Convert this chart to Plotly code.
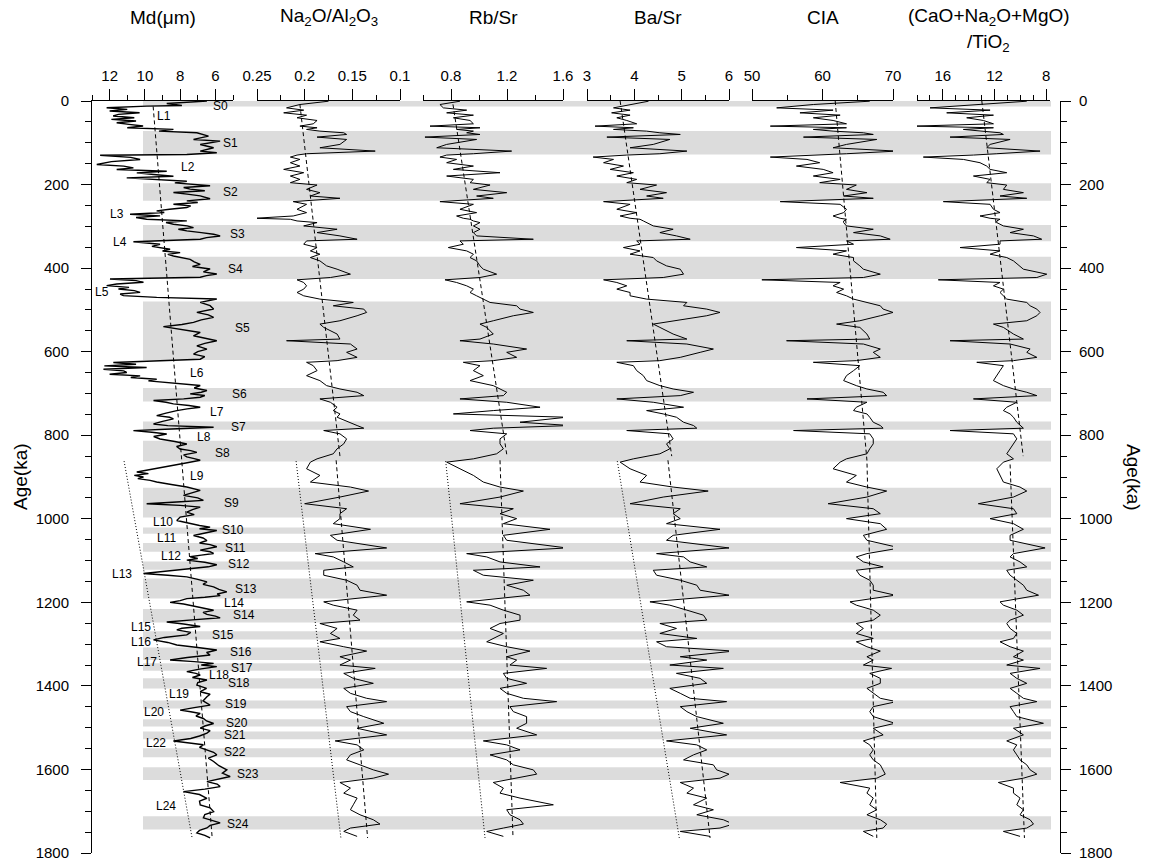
import plotly.graph_objects as go

FONT = "Liberation Sans, Arial, Helvetica, sans-serif"

# ---------------- Md (grain size) ----------------
md_age = [0, 6, 10.7, 12.3, 16, 20, 24, 28, 32, 36, 40, 44, 48, 52, 56, 60, 64, 68, 72, 76,
          84, 92, 96, 104, 112, 120, 124, 128, 130, 135, 140, 145, 152, 156, 160, 164, 168, 172, 176, 180,
          184, 188, 192, 196, 200, 203, 207, 211, 215, 219, 223, 227, 234, 239, 243, 247, 251, 255, 259, 263,
          267, 271, 275, 279, 283, 287, 291, 295, 299, 303, 307, 311, 315, 319, 323, 327, 331, 337, 343, 348,
          355, 359, 363, 367, 371, 375, 379, 385, 391, 396, 402, 409, 414, 418, 422, 426, 430, 434, 438, 442,
          446, 450, 454, 458, 462, 466, 470, 474, 482, 490, 498, 506, 512, 518, 524, 530, 535, 540, 546, 554,
          562, 568, 574, 580, 586, 594, 600, 606, 612, 618, 622, 626, 630, 634, 638, 642, 646, 650, 654, 658,
          662, 666, 670, 674, 681, 687, 693, 697, 701, 705, 709, 713, 717, 721, 725, 729, 733, 737, 741, 747,
          753, 757, 761, 767, 773, 777, 781, 785, 789, 793, 797, 803, 809, 815, 821, 827, 833, 837, 841, 847,
          852, 856, 860, 866, 872, 878, 884, 888, 892, 896, 900, 904, 908, 912, 918, 924, 932, 938, 944, 950,
          956, 960, 964, 968, 972, 978, 984, 990, 996, 1004, 1008, 1012, 1016, 1020, 1024, 1028, 1034, 1040, 1046, 1052,
          1058, 1062, 1067, 1071, 1075, 1079, 1083, 1087, 1091, 1095, 1099, 1104, 1110, 1115, 1119, 1125, 1131, 1135, 1139, 1145,
          1151, 1157, 1163, 1169, 1175, 1180, 1184, 1188, 1191, 1196, 1200, 1204, 1207, 1213, 1219, 1224, 1229, 1233, 1237, 1242,
          1247, 1252, 1258, 1262, 1266, 1272, 1278, 1284, 1290, 1296, 1302, 1308, 1314, 1320, 1326, 1332, 1338, 1342, 1346, 1350,
          1354, 1360, 1366, 1370, 1374, 1380, 1386, 1392, 1398, 1406, 1414, 1420, 1426, 1436, 1446, 1452, 1458, 1462, 1466, 1472,
          1478, 1484, 1490, 1496, 1501, 1507, 1513, 1520, 1526, 1532, 1537, 1541, 1547, 1553, 1559, 1565, 1573, 1581, 1591, 1601,
          1609, 1617, 1623, 1629, 1635, 1641, 1647, 1653, 1660, 1669, 1676, 1685, 1692, 1701, 1708, 1716, 1722, 1728, 1734, 1740,
          1746, 1752, 1758, 1764]
md_val = [6.48, 8.76, 7.90, 9.90, 12.17, 11.0, 12.0, 10.3, 11.5, 11.8, 10.6, 11.9, 10.5, 11.6, 10.9, 10.1, 11.0, 8.38, 9.2, 7.05,
          6.39, 7.24, 5.73, 6.86, 6.10, 6.86, 5.92, 7.62, 12.54, 10.8, 10.27, 11.9, 12.73, 11.2, 10.65, 11.6, 8.76, 10.46, 9.5, 8.38,
          11.03, 9.2, 7.62, 8.3, 6.86, 6.30, 7.8, 7.43, 6.6, 8.38, 7.6, 6.86, 6.30, 7.62, 7.0, 8.38, 7.4, 7.62, 8.6, 9.33,
          8.9, 10.84, 9.14, 10.5, 9.90, 7.62, 8.8, 8.38, 7.6, 7.24, 8.1, 7.62, 6.8, 6.10, 5.73, 6.5, 6.86, 10.65, 9.14, 9.6,
          8.57, 9.0, 8.00, 8.7, 8.38, 7.9, 7.43, 7.2, 6.86, 7.3, 6.30, 6.68, 5.92, 6.5, 6.86, 11.98, 10.5, 10.08, 11.6, 12.17,
          10.9, 11.5, 10.6, 10.27, 11.4, 11.22, 9.33, 5.92, 6.86, 6.3, 6.10, 7.05, 6.4, 6.10, 6.8, 7.24, 7.9, 8.95, 8.00, 6.86,
          7.24, 6.5, 5.92, 6.6, 7.05, 6.48, 7.0, 7.24, 6.6, 6.86, 9.33, 11.79, 10.5, 12.3, 9.9, 12.35, 11.2, 11.03, 12.0, 10.27,
          10.8, 9.33, 9.8, 8.76, 6.86, 7.2, 6.48, 6.8, 7.43, 6.6, 6.86, 7.8, 9.51, 8.8, 8.38, 7.5, 6.86, 7.6, 8.19, 8.8,
          9.33, 8.6, 8.38, 9.0, 9.51, 8.7, 6.10, 8.5, 10.65, 9.6, 8.76, 9.5, 9.14, 8.3, 7.62, 8.2, 8.00, 7.4, 7.05, 7.8,
          7.62, 7.2, 6.86, 7.6, 8.4, 9.2, 10.0, 10.46, 9.8, 10.6, 10.08, 10.4, 9.7, 9.33, 8.5, 7.62, 6.86, 7.3, 7.81, 7.0,
          6.68, 8.2, 9.90, 8.0, 6.86, 7.3, 7.62, 7.2, 8.00, 8.19, 7.8, 7.43, 6.9, 6.30, 6.9, 5.92, 6.6, 7.24, 6.7, 6.48,
          6.9, 6.3, 5.92, 6.5, 6.86, 6.3, 6.10, 6.8, 7.43, 7.0, 7.62, 6.6, 5.92, 6.4, 7.24, 8.6, 10.08, 8.7, 7.62, 7.0,
          6.48, 6.7, 6.10, 5.8, 5.35, 5.9, 5.73, 6.6, 7.62, 8.0, 8.57, 7.8, 7.43, 6.7, 6.10, 6.7, 6.48, 6.0, 5.73, 7.3,
          8.76, 7.8, 6.86, 7.9, 8.19, 7.4, 7.62, 8.9, 9.51, 8.7, 8.19, 7.0, 5.92, 6.5, 6.30, 7.6, 8.57, 7.2, 6.10, 6.8,
          5.92, 6.9, 7.62, 7.1, 6.86, 7.3, 6.48, 7.0, 7.05, 6.5, 6.86, 6.3, 6.48, 6.7, 6.30, 7.2, 8.00, 7.4, 6.86, 7.1,
          6.68, 6.5, 6.10, 6.6, 6.86, 6.3, 6.48, 6.9, 7.4, 8.38, 7.4, 6.68, 6.9, 6.48, 6.1, 5.92, 6.4, 6.10, 5.8, 5.35,
          5.6, 5.16, 5.9, 6.48, 5.9, 5.73, 6.6, 7.81, 6.9, 6.48, 6.9, 6.86, 6.3, 6.10, 6.6, 6.68, 6.2, 5.73, 6.3, 6.48,
          6.9, 7.05, 6.6, 6.30]

# ---------------- geochemistry (shared sample ages) ----------------
geo_age = [0.5, 8.4, 16.4, 21.9, 28.3, 33.9, 40.2, 46.6, 54.6, 60.1,
           64.1, 68.1, 72.1, 76.1, 80.1, 86.4, 92.0, 103.9, 111.9, 119.9,
           126.2, 129.4, 134.2, 139.8, 147.7, 155.7, 163.7, 171.6, 179.6, 187.6,
           195.5, 201.1, 211.5, 219.4, 227.4, 232.9, 240.9, 247.3, 259.2, 267.2,
           275.2, 280.7, 283.1, 287.1, 291.1, 299.0, 307.0, 315.0, 322.9, 330.9,
           334.9, 342.8, 350.8, 358.8, 366.7, 374.7, 382.7, 394.6, 402.6, 414.5,
           422.5, 428.0, 434.4, 442.4, 450.3, 458.3, 466.3, 474.2, 482.2, 490.2,
           498.1, 506.1, 514.0, 526.0, 534.0, 541.9, 557.8, 569.8, 573.8, 581.7,
           593.7, 601.6, 613.6, 621.5, 625.5, 633.5, 645.4, 657.4, 669.3, 681.3,
           689.3, 697.2, 705.2, 713.1, 721.1, 733.0, 741.0, 749.0, 756.9, 768.9,
           776.8, 783.2, 788.8, 796.7, 808.7, 820.6, 832.6, 844.5, 856.5, 864.4,
           880.3, 896.2, 912.1, 924.1, 933.6, 948.0, 963.9, 975.9, 987.8, 999.7,
           1011.7, 1025.2, 1039.6, 1051.5, 1069.8, 1083.4, 1091.3, 1103.3, 1115.2, 1123.2,
           1135.1, 1147.1, 1159.0, 1171.0, 1182.9, 1198.8, 1206.8, 1218.7, 1230.7, 1242.6,
           1250.6, 1262.5, 1274.5, 1286.4, 1294.4, 1306.3, 1316.7, 1330.2, 1338.2, 1350.1,
           1358.1, 1370.0, 1382.0, 1393.9, 1405.9, 1417.8, 1429.7, 1437.7, 1449.7, 1461.6,
           1473.6, 1489.5, 1501.4, 1517.3, 1531.7, 1541.2, 1553.2, 1565.1, 1577.1, 1589.0,
           1601.0, 1611.3, 1620.9, 1631.2, 1644.7, 1656.7, 1668.6, 1684.6, 1696.5, 1708.5,
           1720.4, 1730.8, 1740.3, 1748.3, 1760.2]

na_al = [0.175, 0.205, 0.219, 0.201, 0.222, 0.198, 0.208, 0.187, 0.191, 0.205,
         0.187, 0.198, 0.184, 0.159, 0.156, 0.187, 0.156, 0.163, 0.184, 0.126,
         0.198, 0.208, 0.215, 0.205, 0.215, 0.205, 0.222, 0.201, 0.215, 0.205,
         0.215, 0.187, 0.198, 0.184, 0.194, 0.163, 0.212, 0.198, 0.208, 0.198,
         0.212, 0.252, 0.215, 0.208, 0.187, 0.201, 0.166, 0.187, 0.163, 0.145,
         0.198, 0.201, 0.187, 0.194, 0.184, 0.194, 0.184, 0.177, 0.166, 0.152,
         0.173, 0.208, 0.201, 0.198, 0.201, 0.208, 0.201, 0.184, 0.149, 0.170,
         0.138, 0.135, 0.145, 0.163, 0.184, 0.180, 0.166, 0.163, 0.219, 0.152,
         0.145, 0.156, 0.145, 0.166, 0.198, 0.191, 0.187, 0.198, 0.184, 0.177,
         0.163, 0.145, 0.138, 0.184, 0.173, 0.166, 0.170, 0.163, 0.166, 0.152,
         0.145, 0.138, 0.180, 0.163, 0.156, 0.159, 0.166, 0.170, 0.187, 0.194,
         0.198, 0.184, 0.194, 0.152, 0.133, 0.163, 0.200, 0.156, 0.163, 0.163,
         0.170, 0.131, 0.173, 0.166, 0.114, 0.189, 0.170, 0.159, 0.149, 0.180,
         0.180, 0.156, 0.145, 0.142, 0.114, 0.180, 0.170, 0.145, 0.149, 0.142,
         0.184, 0.166, 0.173, 0.163, 0.184, 0.159, 0.135, 0.163, 0.152, 0.163,
         0.126, 0.159, 0.149, 0.128, 0.159, 0.152, 0.135, 0.114, 0.156, 0.152,
         0.138, 0.117, 0.145, 0.114, 0.168, 0.145, 0.138, 0.152, 0.156, 0.142,
         0.128, 0.112, 0.128, 0.163, 0.152, 0.159, 0.145, 0.149, 0.152, 0.142,
         0.128, 0.121, 0.152, 0.159, 0.145]

rb_sr = [0.864, 0.721, 0.745, 0.912, 0.769, 0.960, 0.817, 0.936, 0.960, 0.650,
         1.007, 0.840, 0.960, 0.912, 1.007, 0.614, 0.983, 0.769, 0.698, 1.233,
         0.960, 0.769, 0.721, 0.840, 0.769, 0.960, 0.817, 1.150, 0.769, 0.960,
         0.936, 1.079, 0.960, 1.198, 0.983, 1.102, 0.721, 0.960, 0.864, 0.983,
         0.840, 0.888, 0.936, 0.960, 1.007, 0.960, 1.007, 0.960, 0.983, 1.388,
         0.864, 0.888, 0.781, 0.912, 0.960, 0.936, 0.983, 1.007, 1.031, 1.126,
         1.007, 0.757, 0.840, 0.912, 0.960, 0.936, 0.983, 1.031, 1.079, 1.269,
         1.293, 1.388, 1.245, 1.102, 1.007, 1.055, 1.102, 1.007, 0.864, 1.102,
         1.340, 1.198, 1.269, 1.102, 0.888, 1.007, 0.960, 1.031, 0.936, 1.102,
         1.150, 1.198, 1.174, 0.864, 1.198, 1.436, 1.102, 0.817, 1.626, 1.293,
         1.650, 1.102, 0.936, 1.198, 1.150, 1.150, 1.174, 1.126, 0.960, 0.769,
         0.864, 0.960, 1.031, 1.150, 1.317, 1.150, 0.864, 1.245, 1.150, 1.269,
         1.174, 1.507, 1.174, 1.198, 1.626, 0.912, 1.055, 1.150, 1.436, 0.960,
         1.031, 1.388, 1.198, 1.317, 1.364, 0.912, 1.079, 1.174, 1.293, 1.293,
         1.150, 1.079, 1.174, 1.102, 1.055, 1.198, 1.364, 1.198, 1.269, 1.221,
         1.483, 1.174, 1.198, 1.340, 1.150, 1.198, 1.317, 1.555, 1.221, 1.245,
         1.340, 1.340, 1.269, 1.412, 1.031, 1.198, 1.293, 1.079, 1.198, 1.245,
         1.388, 1.412, 1.269, 1.102, 1.174, 1.150, 1.293, 1.531, 1.198, 1.221,
         1.293, 1.317, 1.174, 1.055, 1.174]

ba_sr = [4.30, 3.91, 3.56, 3.91, 3.52, 3.91, 3.63, 3.84, 4.05, 3.17,
         3.98, 3.56, 4.26, 4.54, 4.97, 3.42, 4.75, 4.40, 3.91, 5.11,
         4.54, 3.84, 3.13, 3.56, 3.35, 3.77, 3.49, 3.98, 3.63, 4.05,
         3.84, 4.47, 4.12, 4.68, 4.26, 4.61, 3.35, 3.91, 3.63, 4.05,
         3.70, 3.91, 4.12, 4.19, 4.26, 4.40, 4.82, 4.54, 4.89, 5.18,
         4.05, 4.12, 3.77, 4.12, 3.91, 4.40, 4.47, 4.68, 4.97, 5.04,
         4.61, 3.35, 3.63, 3.84, 3.63, 3.91, 3.91, 4.26, 5.11, 5.04,
         5.53, 5.81, 5.53, 4.82, 4.40, 4.54, 4.82, 5.11, 3.84, 5.11,
         5.67, 5.39, 4.97, 4.54, 3.63, 3.98, 4.05, 4.19, 4.26, 4.54,
         4.82, 5.25, 4.97, 3.63, 4.40, 5.04, 4.26, 4.61, 4.89, 5.04,
         5.25, 5.32, 3.84, 4.75, 4.82, 4.68, 4.75, 4.54, 3.98, 3.70,
         3.91, 4.26, 4.12, 4.82, 5.56, 4.61, 3.91, 4.97, 4.82, 4.97,
         4.68, 5.81, 4.82, 4.68, 6.00, 4.47, 5.04, 5.18, 5.53, 4.40,
         4.47, 4.97, 5.32, 5.39, 6.00, 4.33, 4.75, 5.11, 5.46, 5.53,
         4.54, 4.89, 4.54, 5.32, 4.47, 4.68, 6.10, 4.97, 5.53, 4.75,
         5.88, 4.89, 5.39, 5.53, 4.75, 4.97, 5.18, 5.95, 4.97, 5.11,
         5.32, 5.88, 5.18, 5.95, 4.68, 5.32, 5.53, 5.25, 5.04, 5.67,
         5.74, 6.00, 5.81, 4.97, 5.25, 5.11, 5.53, 5.25, 5.67, 5.32,
         5.88, 6.09, 5.81, 4.97, 5.60]

cia = [66.7, 58.7, 53.5, 61.5, 56.8, 62.5, 58.7, 61.5, 63.4, 52.6,
       63.4, 58.7, 61.5, 65.8, 67.2, 57.3, 67.7, 63.4, 61.5, 70.5,
       63.4, 58.7, 52.6, 57.8, 59.6, 56.3, 60.1, 61.5, 58.7, 62.5,
       59.6, 64.8, 63.4, 66.3, 63.0, 67.2, 54.0, 62.5, 63.4, 63.0,
       61.5, 62.5, 63.4, 63.0, 63.0, 63.4, 67.2, 64.4, 68.2, 69.6,
       63.4, 64.4, 56.3, 63.4, 61.5, 64.4, 64.4, 65.3, 65.8, 68.2,
       65.8, 51.4, 62.5, 61.5, 63.0, 62.0, 63.4, 64.4, 66.3, 68.2,
       68.6, 70.0, 68.2, 65.3, 62.0, 65.3, 66.3, 66.7, 54.9, 65.8,
       68.2, 67.2, 68.2, 64.8, 58.7, 65.3, 64.4, 63.4, 63.0, 64.8,
       66.3, 68.6, 69.1, 57.8, 66.3, 64.8, 64.4, 66.3, 66.7, 67.2,
       68.2, 68.6, 55.9, 66.7, 67.2, 67.2, 66.7, 66.3, 63.4, 62.5,
       61.5, 64.8, 63.4, 66.3, 69.1, 66.3, 60.8, 67.2, 68.2, 63.4,
       68.2, 69.1, 65.8, 66.3, 71.0, 66.3, 64.8, 65.8, 68.6, 64.8,
       65.3, 66.7, 67.2, 67.2, 70.3, 63.9, 64.8, 67.2, 68.2, 67.2,
       64.8, 65.8, 64.8, 67.2, 64.8, 66.3, 68.2, 66.3, 67.2, 65.8,
       69.8, 66.7, 68.2, 68.2, 66.3, 67.2, 68.2, 70.5, 67.2, 66.7,
       67.2, 70.3, 67.2, 68.6, 65.8, 66.7, 67.2, 66.7, 67.2, 68.2,
       68.6, 68.9, 67.7, 62.5, 66.7, 66.3, 67.2, 66.7, 67.7, 66.3,
       68.2, 69.1, 68.6, 65.8, 67.2]

cnm_ti = [9.50, 13.12, 16.99, 12.34, 15.70, 12.08, 14.15, 12.86, 12.08, 18.16,
          12.08, 14.41, 12.86, 11.57, 11.31, 15.44, 10.79, 12.34, 12.60, 8.47,
          11.82, 13.63, 17.51, 14.41, 13.12, 12.60, 12.34, 11.05, 13.63, 12.34,
          12.60, 11.05, 11.31, 9.76, 11.57, 9.50, 15.96, 12.34, 12.08, 11.57,
          13.12, 12.34, 11.57, 11.82, 11.82, 11.31, 9.76, 10.79, 8.98, 8.34,
          11.57, 11.57, 14.67, 11.57, 12.34, 11.05, 10.53, 10.02, 9.76, 7.95,
          8.72, 16.35, 11.57, 12.08, 11.31, 11.57, 11.31, 11.05, 9.50, 9.24,
          8.72, 8.47, 8.72, 9.50, 12.08, 11.31, 10.53, 9.76, 15.44, 10.79,
          9.24, 9.50, 8.72, 10.53, 13.37, 11.31, 11.57, 11.82, 12.08, 11.31,
          10.53, 9.50, 8.72, 13.63, 10.27, 11.05, 11.31, 10.79, 10.53, 10.27,
          10.02, 9.76, 15.44, 10.53, 10.27, 10.53, 10.79, 11.05, 10.53, 11.31,
          11.82, 11.57, 11.31, 10.02, 9.50, 10.53, 13.25, 10.53, 10.27, 12.34,
          10.53, 9.76, 10.79, 10.79, 8.08, 10.53, 10.79, 10.02, 9.50, 11.05,
          10.79, 10.27, 9.76, 9.50, 8.59, 11.57, 11.31, 10.27, 9.76, 10.79,
          11.05, 10.79, 10.27, 10.53, 11.57, 10.79, 9.76, 10.53, 9.76, 11.05,
          8.47, 10.79, 10.27, 9.50, 10.79, 10.27, 9.76, 8.72, 10.79, 10.53,
          10.27, 8.21, 10.53, 9.76, 11.05, 10.27, 10.53, 10.27, 10.02, 9.50,
          9.24, 8.72, 9.76, 11.70, 10.53, 10.53, 10.02, 10.27, 9.76, 10.02,
          9.24, 8.98, 9.50, 11.31, 10.02]

for name, arr in [("na_al", na_al), ("rb_sr", rb_sr), ("ba_sr", ba_sr), ("cia", cia), ("cnm_ti", cnm_ti)]:
    if len(arr) != len(geo_age):
        raise SystemExit(f"{name}: {len(arr)} vs {len(geo_age)}")
if len(md_age) != len(md_val):
    raise SystemExit(f"md: {len(md_age)} vs {len(md_val)}")

# ---------------- trend lines (dashed) and envelope (dotted) ----------------
md_trend_age = [13, 862, 1764]
md_trend = [9.53, 7.90, 6.18]
na_trend_age = [8, 850, None, 860, 1764]
na_trend = [0.205, 0.163, None, 0.167, 0.134]
rb_trend_age = [8, 850, None, 860, 1764]
rb_trend = [0.814, 1.20, None, 1.15, 1.243]
ba_trend_age = [0, 850, None, 860, 1764]
ba_trend = [3.70, 4.79, None, 4.71, 5.60]
cia_trend_age = [0, 860, 1764]
cia_trend = [61.8, 66.3, 67.7]
cnm_trend_age = [0, 850, None, 870, 1764]
cnm_trend = [12.98, 9.78, None, 10.79, 9.68]

env_age = [862, 1764]
md_env = [11.18, 7.32]
na_env = [0.209, 0.162]
rb_env = [0.762, 1.043]
ba_env = [3.64, 4.95]

# ---------------- paleosol bands and unit labels ----------------
band_start = [0, 72, 197, 297, 373, 480, 687, 767, 813, 926, 1021, 1058, 1102, 1143, 1216,
              1269, 1308, 1346, 1382, 1435, 1480, 1509, 1549, 1595, 1712]
band_end = [13, 128, 239, 336, 426, 620, 719, 787, 863, 997, 1036, 1079, 1122, 1191, 1248,
            1289, 1338, 1364, 1406, 1454, 1497, 1528, 1571, 1625, 1744]

unit_names = ["S0", "L1", "S1", "L2", "S2", "L3", "S3", "L4", "S4", "L5", "S5", "L6", "S6", "L7", "S7",
              "L8", "S8", "L9", "S9", "L10", "S10", "L11", "S11", "L12", "S12", "L13", "S13", "L14",
              "S14", "L15", "S15", "L16", "S16", "L17", "S17", "L18", "S18", "L19", "S19", "L20",
              "S20", "S21", "L22", "S22", "S23", "L24", "S24"]
unit_ages = [13, 35, 101, 157, 217, 271, 319, 338, 402, 457, 544, 651, 701, 744, 780,
             804, 843, 897, 962, 1007, 1028, 1045, 1069, 1090, 1109, 1133, 1167, 1202,
             1231, 1260, 1279, 1296, 1320, 1342, 1356, 1374, 1393, 1420, 1444, 1463,
             1489, 1517, 1537, 1558, 1610, 1688, 1730]
# label positions expressed on the Md scale
unit_md = [5.73, 8.91, 5.16, 7.55, 5.16, 11.58, 4.76, 11.41, 4.88, 12.43, 4.48, 7.03, 4.65, 5.90, 4.70,
           6.64, 5.61, 7.03, 5.10, 8.97, 4.99, 8.80, 4.88, 8.51, 4.65, 11.30, 4.25, 4.93,
           4.36, 10.22, 5.56, 10.22, 4.53, 9.88, 4.48, 5.78, 4.65, 8.06, 4.82, 9.48,
           4.76, 4.88, 9.36, 4.88, 4.14, 8.80, 4.70]

# ---------------- layout geometry ----------------
FIG_W, FIG_H = 1149, 866
ML, MR, MT, MB = 92, 89, 101, 13
PW = FIG_W - ML - MR
PH = FIG_H - MT - MB


def dom(a, b):
    return [(a - ML) / PW, (b - ML) / PW]


panels = [
    dict(key="x", dom=dom(92, 233), rng=[13, 5], major=[12, 10, 8, 6], lab=["12", "10", "8", "6"],
         minor=[13, 11, 9, 7, 5]),
    dict(key="x2", dom=dom(257, 400), rng=[0.25, 0.1], major=[0.25, 0.2, 0.15, 0.1],
         lab=["0.25", "0.2", "0.15", "0.1"], minor=[0.225, 0.175, 0.125]),
    dict(key="x3", dom=dom(423, 563), rng=[0.6, 1.6], major=[0.8, 1.2, 1.6], lab=["0.8", "1.2", "1.6"],
         minor=[0.6, 1.0, 1.4]),
    dict(key="x4", dom=dom(587, 729), rng=[3, 6], major=[3, 4, 5, 6], lab=["3", "4", "5", "6"],
         minor=[3.5, 4.5, 5.5]),
    dict(key="x5", dom=dom(752, 893), rng=[50, 70], major=[50, 60, 70], lab=["50", "60", "70"],
         minor=[55, 65]),
    dict(key="x6", dom=dom(917, 1050), rng=[18, 7.7], major=[16, 12, 8], lab=["16", "12", "8"],
         minor=[18, 17, 15, 14, 13, 11, 10, 9]),
]

fig = go.Figure()
line = dict(color="black", width=1)
md_line = dict(color="black", width=1.4)
dash = dict(color="black", width=1, dash="4px,3px")
dot = dict(color="black", width=1, dash="1px,2px")

series = [
    ("x", md_val, md_age, md_trend, md_trend_age, md_env),
    ("x2", na_al, geo_age, na_trend, na_trend_age, na_env),
    ("x3", rb_sr, geo_age, rb_trend, rb_trend_age, rb_env),
    ("x4", ba_sr, geo_age, ba_trend, ba_trend_age, ba_env),
    ("x5", cia, geo_age, cia_trend, cia_trend_age, None),
    ("x6", cnm_ti, geo_age, cnm_trend, cnm_trend_age, None),
]
for xk, vals, ages, tr, tr_age, env in series:
    fig.add_trace(go.Scatter(x=vals, y=ages, xaxis=xk, yaxis="y", mode="lines",
                             line=md_line if xk == "x" else line,
                             showlegend=False, hoverinfo="skip"))
    fig.add_trace(go.Scatter(x=tr, y=tr_age, xaxis=xk, yaxis="y", mode="lines", line=dash,
                             showlegend=False, hoverinfo="skip", connectgaps=False))
    if env is not None:
        fig.add_trace(go.Scatter(x=env, y=env_age, xaxis=xk, yaxis="y", mode="lines", line=dot,
                                 showlegend=False, hoverinfo="skip"))

# dummy trace for right-hand age axis
fig.add_trace(go.Scatter(x=[None], y=[None], xaxis="x6", yaxis="y2", showlegend=False,
                         hoverinfo="skip"))

layout = dict(
    template="none",
    width=FIG_W, height=FIG_H,
    margin=dict(l=ML, r=MR, t=MT, b=MB, pad=0, autoexpand=False),
    paper_bgcolor="white", plot_bgcolor="rgba(0,0,0,0)",
    font=dict(family=FONT, color="black", size=15),
    showlegend=False, hovermode=False,
)

for p in panels:
    name = "xaxis" if p["key"] == "x" else "xaxis" + p["key"][1:]
    layout[name] = dict(
        domain=p["dom"], range=p["rng"], side="top", anchor="y", automargin=False,
        showline=True, linecolor="black", linewidth=1, mirror=False,
        ticks="outside", ticklen=11, tickwidth=1, tickcolor="black",
        tickmode="array", tickvals=p["major"], ticktext=p["lab"],
        minor=dict(tickmode="array", tickvals=p["minor"], ticks="outside", ticklen=5,
                   tickwidth=1, tickcolor="black", showgrid=False),
        showgrid=False, zeroline=False, fixedrange=True,
        tickfont=dict(family=FONT, size=15, color="black"), ticklabelstandoff=2,
    )

yax = dict(
    domain=[0, 1], range=[1800, 0], showline=True, linecolor="black", linewidth=1,
    ticks="outside", ticklen=10, tickwidth=1, tickcolor="black", automargin=False,
    tickmode="linear", tick0=0, dtick=200,
    minor=dict(ticks="outside", ticklen=6, tick0=0, dtick=50,
               tickcolor="black", tickwidth=1, showgrid=False),
    showgrid=False, zeroline=False, fixedrange=True,
    tickfont=dict(family=FONT, size=15, color="black"),
)
layout["yaxis"] = dict(yax, anchor="x", side="left", ticklabelstandoff=9)
layout["yaxis2"] = dict(yax, overlaying="y", side="right", anchor="free", position=1.0,
                        ticklabelstandoff=5)

shapes = []
for s, e in zip(band_start, band_end):
    shapes.append(dict(type="rect", xref="paper", yref="y", x0=(143 - ML) / PW, x1=(1051 - ML) / PW,
                       y0=s, y1=e, fillcolor="#dcdcdc", line=dict(width=0), layer="below"))
layout["shapes"] = shapes

ann = []
title_y = 1 + (MT - 17) / PH
title_y2 = 1 + (MT - 43) / PH
titles = [("x", "Md(\u03bcm)"), ("x2", "Na<sub>2</sub>O/Al<sub>2</sub>O<sub>3</sub>"),
          ("x3", "Rb/Sr"), ("x4", "Ba/Sr"), ("x5", "CIA")]
for xk, t in titles:
    ann.append(dict(xref=f"{xk} domain", yref="paper", x=0.5, y=title_y, text=t, showarrow=False,
                    font=dict(family=FONT, size=19, color="black"), xanchor="center", yanchor="middle"))
ann.append(dict(xref="x6 domain", yref="paper", x=0.54, y=title_y,
                text="(CaO+Na<sub>2</sub>O+MgO)", showarrow=False,
                font=dict(family=FONT, size=19, color="black"), xanchor="center", yanchor="middle"))
ann.append(dict(xref="x6 domain", yref="paper", x=0.54, y=title_y2, text="/TiO<sub>2</sub>",
                showarrow=False, font=dict(family=FONT, size=19, color="black"),
                xanchor="center", yanchor="middle"))
ann.append(dict(xref="paper", yref="paper", x=(20 - ML) / PW, y=0.5, text="Age(ka)", textangle=-90,
                showarrow=False, font=dict(family=FONT, size=19, color="black"),
                xanchor="center", yanchor="middle"))
ann.append(dict(xref="paper", yref="paper", x=(1134 - ML) / PW, y=0.5, text="Age(ka)", textangle=90,
                showarrow=False, font=dict(family=FONT, size=19, color="black"),
                xanchor="center", yanchor="middle"))

md_dom = panels[0]["dom"]
md_rng = panels[0]["rng"]
for nm, ag, mv in zip(unit_names, unit_ages, unit_md):
    frac = (md_rng[0] - mv) / (md_rng[0] - md_rng[1])
    px = md_dom[0] + frac * (md_dom[1] - md_dom[0])
    ann.append(dict(xref="paper", yref="y", x=px, y=ag, text=nm, showarrow=False,
                    font=dict(family=FONT, size=12, color="black"), xanchor="center", yanchor="middle"))
layout["annotations"] = ann

fig.update_layout(**layout)
fig.write_html(
    "out.html",
    config={"displayModeBar": False},
    post_script="document.body.style.margin='0';document.body.style.overflow='hidden';",
)
